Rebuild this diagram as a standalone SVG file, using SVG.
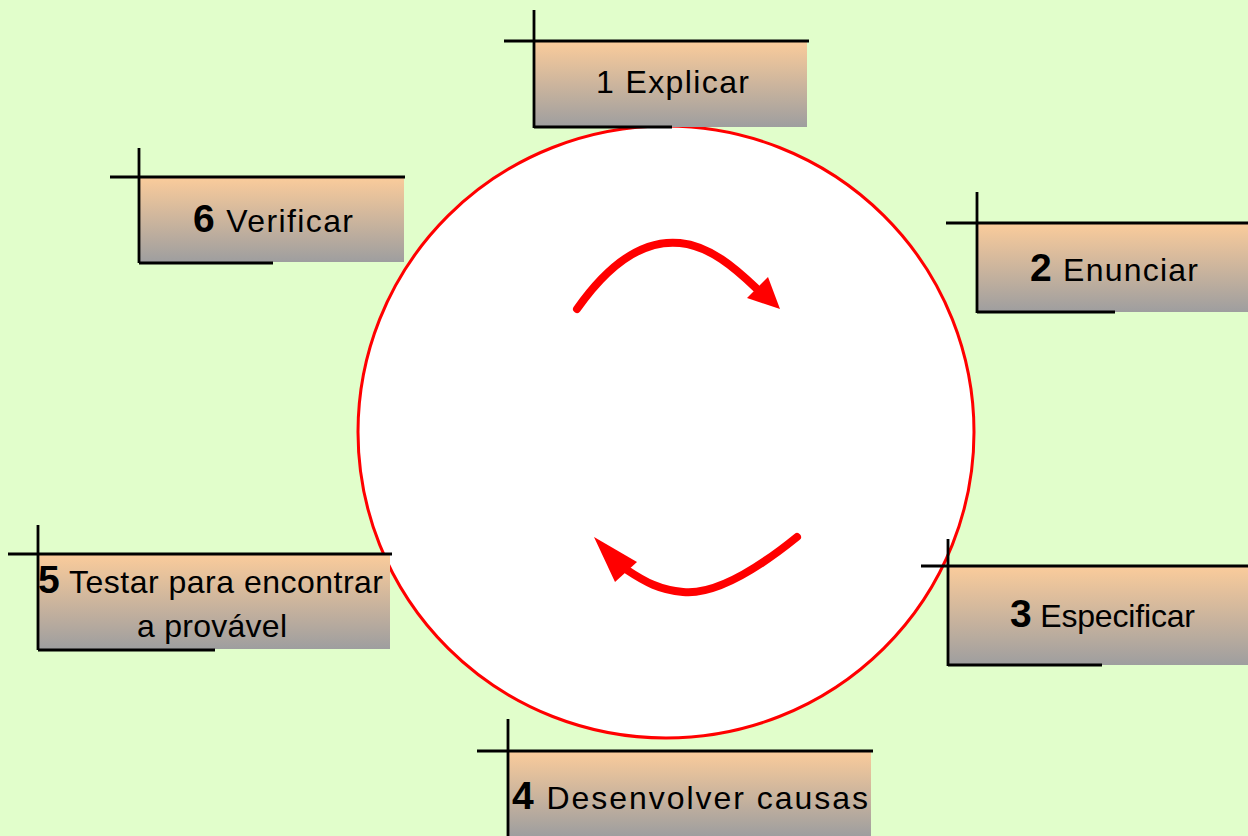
<svg xmlns="http://www.w3.org/2000/svg" width="1248" height="836" viewBox="0 0 1248 836">
<defs>
<linearGradient id="g" x1="0" y1="0" x2="0" y2="1">
<stop offset="0" stop-color="#FBCC9B"/>
<stop offset="1" stop-color="#9E9E9F"/>
</linearGradient>
<style>
.box{fill:url(#g);stroke:none}
.ln{stroke:#000;stroke-width:2.8;fill:none}
.t{font-family:"Liberation Sans",Arial,sans-serif;font-size:32px;fill:#000}
.n{font-weight:bold;font-size:39px}
.arc{fill:none;stroke:#FF0000;stroke-width:8;stroke-linecap:round}
.head{fill:#FF0000}
</style>
</defs>
<rect x="0" y="0" width="1248" height="836" fill="#E1FECB"/>
<g id="cycle">
<ellipse cx="666" cy="432" rx="308" ry="306" fill="#FFFFFF" stroke="#FF0000" stroke-width="3"/>
</g>
<g id="connectors">
<path class="arc" d="M577,309 C615,255 650,240 680,243 C710,246 735,268 756,288"/>
<polygon class="head" points="780,309 768,277 747,298"/>
<path class="arc" d="M797,537 C750,575 712,595 683,592 C660,590 645,582 627,570"/>
<polygon class="head" points="594,537 637,562 615,582"/>
</g>
<g id="node1">
<rect class="box" x="534" y="41" width="273" height="86"/>
<path class="ln" d="M504,41 H809 M534,10 V128 M534,127 H672"/>
<text class="t" x="596" y="93" textLength="153" lengthAdjust="spacing">1 Explicar</text>
</g>
<g id="node2">
<rect class="box" x="977" y="223" width="271" height="89"/>
<path class="ln" d="M946,223 H1248 M977,192 V313 M977,312 H1115"/>
<text class="t" x="1030" y="281" textLength="168" lengthAdjust="spacing"><tspan class="n">2</tspan> Enunciar</text>
</g>
<g id="node3">
<rect class="box" x="948" y="566" width="300" height="99"/>
<path class="ln" d="M921,566 H1248 M948,539 V666 M948,665 H1102"/>
<text class="t" x="1010" y="627" textLength="185" lengthAdjust="spacing"><tspan class="n">3</tspan> Especificar</text>
</g>
<g id="node4">
<rect class="box" x="508" y="751" width="363" height="85"/>
<path class="ln" d="M477,751 H873 M508,719 V836"/>
<text class="t" x="512" y="809" textLength="356" lengthAdjust="spacing"><tspan class="n" font-size="43">4</tspan> Desenvolver causas</text>
</g>
<g id="node5">
<rect class="box" x="38" y="554" width="352" height="95"/>
<path class="ln" d="M8,554 H392 M38,525 V650 M38,650 H215"/>
<text class="t" x="38" y="593" textLength="345" lengthAdjust="spacing"><tspan class="n" font-size="36">5</tspan> Testar para encontrar</text>
<text class="t" x="137" y="637" textLength="150" lengthAdjust="spacing">a provável</text>
</g>
<g id="node6">
<rect class="box" x="139" y="177" width="265" height="85"/>
<path class="ln" d="M110,177 H405 M139,148 V263 M139,263 H273"/>
<text class="t" x="193" y="232" textLength="160" lengthAdjust="spacing"><tspan class="n">6</tspan> Verificar</text>
</g>
</svg>
